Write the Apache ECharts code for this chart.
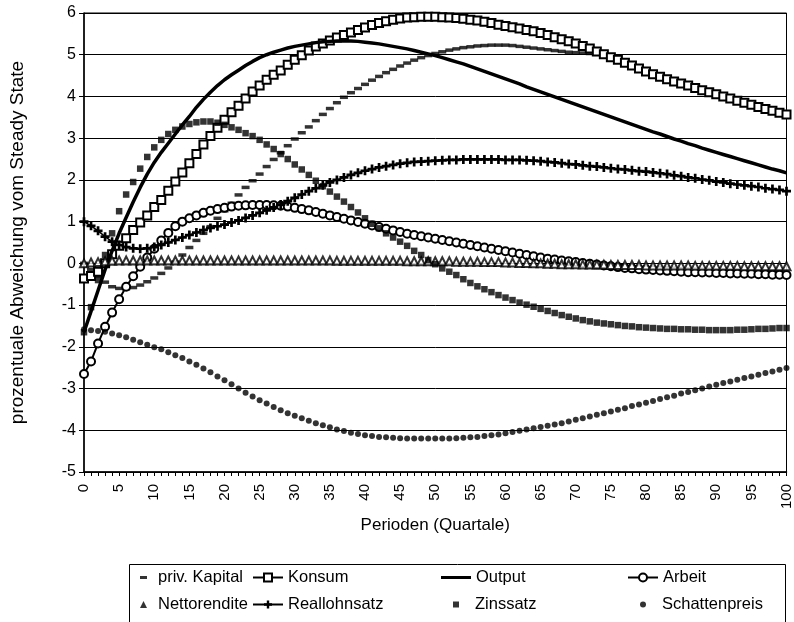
<!DOCTYPE html>
<html>
<head>
<meta charset="utf-8">
<script src="https://cdn.jsdelivr.net/npm/echarts@6/dist/echarts.min.js"></script>
<style>
html,body{margin:0;padding:0;background:#fff;}
#chart{width:794px;height:622px;}
</style>
</head>
<body>
<div id="chart"></div>
<script>
var periods = [0,1,2,3,4,5,6,7,8,9,10,11,12,13,14,15,16,17,18,19,20,21,22,23,24,25,26,27,28,29,30,31,32,33,34,35,36,37,38,39,40,41,42,43,44,45,46,47,48,49,50,51,52,53,54,55,56,57,58,59,60,61,62,63,64,65,66,67,68,69,70,71,72,73,74,75,76,77,78,79,80,81,82,83,84,85,86,87,88,89,90,91,92,93,94,95,96,97,98,99,100];

var seriesNames = ['priv. Kapital','Konsum','Output','Arbeit','Nettorendite','Reallohnsatz','Zinssatz','Schattenpreis'];

var privKapital = [0.0,-0.15,-0.3,-0.45,-0.56,-0.6,-0.61,-0.58,-0.52,-0.44,-0.35,-0.24,-0.11,0.03,0.2,0.38,0.55,0.72,0.88,1.08,1.26,1.44,1.64,1.82,1.98,2.14,2.32,2.49,2.65,2.82,2.98,3.13,3.27,3.42,3.57,3.71,3.85,3.98,4.09,4.19,4.29,4.39,4.48,4.57,4.65,4.73,4.8,4.87,4.93,4.98,5.03,5.07,5.11,5.14,5.17,5.19,5.21,5.22,5.23,5.23,5.23,5.22,5.2,5.18,5.16,5.14,5.12,5.1,5.08,5.06,5.05,5.04,5.03,5.01,4.97,4.92,4.86,4.79,4.72,4.65,4.58,4.51,4.45,4.39,4.34,4.29,4.24,4.18,4.13,4.08,4.03,3.98,3.93,3.88,3.83,3.78,3.73,3.68,3.64,3.59,3.55];

var konsum = [-0.36,-0.3,-0.2,0.0,0.22,0.42,0.6,0.8,0.98,1.15,1.35,1.52,1.74,1.96,2.18,2.4,2.62,2.85,3.05,3.25,3.44,3.62,3.78,3.95,4.12,4.26,4.4,4.52,4.62,4.76,4.88,4.99,5.1,5.2,5.27,5.34,5.41,5.47,5.53,5.59,5.65,5.71,5.76,5.8,5.84,5.87,5.89,5.9,5.91,5.91,5.91,5.9,5.89,5.88,5.86,5.84,5.82,5.79,5.76,5.72,5.69,5.66,5.63,5.59,5.56,5.52,5.47,5.42,5.37,5.32,5.27,5.21,5.15,5.08,5.01,4.94,4.88,4.81,4.74,4.67,4.6,4.53,4.47,4.41,4.36,4.31,4.26,4.2,4.15,4.1,4.05,4.0,3.95,3.9,3.85,3.8,3.75,3.7,3.66,3.61,3.57];

var output = [-1.65,-1.15,-0.65,-0.15,0.3,0.72,1.1,1.47,1.82,2.14,2.42,2.66,2.88,3.1,3.32,3.52,3.74,3.93,4.1,4.26,4.4,4.52,4.63,4.74,4.84,4.93,5.0,5.06,5.11,5.16,5.2,5.23,5.26,5.29,5.31,5.32,5.33,5.33,5.33,5.32,5.3,5.28,5.26,5.23,5.2,5.17,5.14,5.1,5.06,5.02,4.98,4.93,4.88,4.83,4.78,4.72,4.66,4.6,4.54,4.48,4.42,4.36,4.3,4.23,4.17,4.11,4.05,3.99,3.93,3.87,3.81,3.75,3.69,3.63,3.57,3.51,3.45,3.39,3.33,3.27,3.21,3.15,3.1,3.04,2.98,2.93,2.87,2.82,2.76,2.71,2.66,2.61,2.56,2.51,2.46,2.41,2.36,2.31,2.26,2.22,2.17];

var arbeit = [-2.65,-2.35,-1.92,-1.52,-1.18,-0.86,-0.56,-0.31,-0.08,0.14,0.35,0.55,0.73,0.89,1.0,1.08,1.15,1.21,1.26,1.3,1.33,1.36,1.38,1.39,1.4,1.4,1.4,1.39,1.38,1.36,1.33,1.3,1.27,1.23,1.19,1.15,1.11,1.07,1.03,0.99,0.95,0.91,0.87,0.83,0.79,0.75,0.71,0.68,0.65,0.62,0.59,0.56,0.53,0.5,0.47,0.44,0.41,0.38,0.35,0.32,0.29,0.26,0.23,0.2,0.17,0.14,0.11,0.09,0.07,0.05,0.03,0.01,-0.01,-0.03,-0.05,-0.07,-0.09,-0.11,-0.12,-0.14,-0.15,-0.16,-0.17,-0.18,-0.19,-0.2,-0.21,-0.21,-0.22,-0.22,-0.23,-0.23,-0.24,-0.24,-0.25,-0.25,-0.26,-0.26,-0.27,-0.27,-0.28];

var nettorendite = [0.0,0.02,0.03,0.05,0.06,0.07,0.07,0.07,0.07,0.07,0.07,0.07,0.07,0.07,0.07,0.07,0.07,0.07,0.07,0.07,0.07,0.07,0.07,0.07,0.07,0.07,0.07,0.07,0.07,0.07,0.07,0.07,0.07,0.07,0.07,0.07,0.06,0.06,0.06,0.06,0.06,0.06,0.06,0.06,0.06,0.06,0.05,0.05,0.05,0.05,0.05,0.05,0.05,0.04,0.04,0.04,0.04,0.03,0.03,0.03,0.02,0.02,0.01,0.01,0.0,0.0,-0.01,-0.01,-0.02,-0.02,-0.02,-0.03,-0.03,-0.03,-0.03,-0.04,-0.04,-0.04,-0.04,-0.04,-0.05,-0.05,-0.05,-0.05,-0.05,-0.05,-0.05,-0.06,-0.06,-0.06,-0.06,-0.06,-0.06,-0.06,-0.07,-0.07,-0.07,-0.07,-0.07,-0.07,-0.07];

var reallohnsatz = [1.0,0.9,0.78,0.64,0.52,0.44,0.39,0.36,0.35,0.36,0.39,0.44,0.5,0.56,0.62,0.68,0.74,0.8,0.85,0.89,0.93,0.98,1.03,1.09,1.15,1.21,1.27,1.34,1.41,1.49,1.57,1.65,1.73,1.8,1.87,1.94,2.0,2.06,2.12,2.17,2.22,2.26,2.3,2.33,2.36,2.39,2.41,2.43,2.44,2.45,2.46,2.47,2.48,2.48,2.49,2.49,2.49,2.49,2.49,2.49,2.48,2.48,2.48,2.47,2.46,2.45,2.43,2.42,2.4,2.38,2.37,2.35,2.33,2.32,2.3,2.28,2.26,2.25,2.23,2.21,2.2,2.18,2.16,2.14,2.11,2.09,2.06,2.04,2.01,1.99,1.96,1.94,1.91,1.89,1.87,1.85,1.83,1.8,1.78,1.76,1.73];

var zinssatz = [-1.65,-1.05,-0.4,0.2,0.72,1.25,1.65,1.95,2.27,2.55,2.78,2.96,3.1,3.2,3.28,3.34,3.38,3.4,3.4,3.37,3.32,3.26,3.2,3.12,3.05,2.96,2.85,2.74,2.62,2.5,2.37,2.25,2.12,1.98,1.85,1.72,1.6,1.48,1.35,1.22,1.08,0.95,0.84,0.72,0.62,0.52,0.42,0.3,0.2,0.08,-0.02,-0.12,-0.2,-0.28,-0.38,-0.47,-0.55,-0.62,-0.69,-0.76,-0.82,-0.88,-0.94,-0.99,-1.04,-1.09,-1.14,-1.19,-1.24,-1.28,-1.32,-1.36,-1.39,-1.42,-1.44,-1.46,-1.48,-1.5,-1.51,-1.53,-1.54,-1.55,-1.56,-1.57,-1.57,-1.58,-1.58,-1.59,-1.59,-1.6,-1.6,-1.6,-1.6,-1.59,-1.59,-1.58,-1.57,-1.57,-1.56,-1.55,-1.55];

var schattenpreis = [-1.58,-1.6,-1.62,-1.64,-1.68,-1.72,-1.77,-1.83,-1.89,-1.95,-2.01,-2.06,-2.13,-2.2,-2.27,-2.35,-2.43,-2.52,-2.61,-2.71,-2.8,-2.9,-3.0,-3.1,-3.19,-3.28,-3.36,-3.44,-3.52,-3.59,-3.65,-3.71,-3.77,-3.83,-3.88,-3.93,-3.98,-4.02,-4.06,-4.09,-4.12,-4.14,-4.16,-4.17,-4.18,-4.19,-4.2,-4.2,-4.2,-4.2,-4.2,-4.2,-4.2,-4.19,-4.18,-4.17,-4.16,-4.14,-4.12,-4.1,-4.07,-4.04,-4.01,-3.98,-3.95,-3.92,-3.89,-3.86,-3.83,-3.79,-3.75,-3.71,-3.67,-3.63,-3.59,-3.55,-3.51,-3.47,-3.42,-3.38,-3.34,-3.3,-3.25,-3.21,-3.17,-3.12,-3.08,-3.04,-3.0,-2.95,-2.91,-2.87,-2.83,-2.79,-2.75,-2.71,-2.67,-2.63,-2.59,-2.55,-2.51];

var yAxisTitle = 'prozentuale Abweichung vom Steady State';
var xAxisTitle = 'Perioden (Quartale)';

function pairs(vals) {
  return periods.map(function (p, i) { return [p, vals[i]]; });
}

var FONT = "'Liberation Sans', Arial, sans-serif";
var BLACK = '#000';
var plusPath = 'path://M3.5,0h3v3.5h3.5v3h-3.5v3.5h-3v-3.5h-3.5v-3h3.5z';
var LEG_FS = 16.5;

var chart = echarts.init(document.getElementById('chart'), null, {renderer: 'canvas'});

function legendItem(name, left, top, extra, pad) {
  var base = {
    data: [name],
    left: left,
    top: top,
    orient: 'horizontal',
    selectedMode: false,
    itemWidth: 30,
    itemHeight: 10,
    padding: 0,
    textStyle: {fontFamily: FONT, fontSize: LEG_FS, color: BLACK, padding: [0, 0, 0, pad || 0]}
  };
  for (var k in extra) base[k] = extra[k];
  return base;
}

var option = {
  animation: false,
  backgroundColor: '#fff',
  grid: {left: 82, right: 7, top: 13, bottom: 150, show: true, borderColor: BLACK, borderWidth: 1},
  xAxis: {
    type: 'value', min: 0, max: 100, interval: 5,
    name: xAxisTitle, nameLocation: 'middle', nameGap: 41,
    nameTextStyle: {fontFamily: FONT, fontSize: 17, color: BLACK},
    axisLine: {show: true, onZero: false, lineStyle: {color: BLACK, width: 1.5}},
    axisTick: {show: true, length: 4, inside: false, lineStyle: {color: BLACK}},
    minorTick: {show: true, splitNumber: 5, length: 4, lineStyle: {color: BLACK}},
    splitLine: {show: false},
    axisLabel: {rotate: 90, margin: 12, fontFamily: FONT, fontSize: 15, color: BLACK}
  },
  yAxis: {
    type: 'value', min: -5, max: 6, interval: 1,
    name: yAxisTitle, nameLocation: 'middle', nameRotate: 90, nameGap: 57,
    nameTextStyle: {fontFamily: FONT, fontSize: 19, color: BLACK},
    axisLine: {show: true, lineStyle: {color: BLACK, width: 1.5}},
    axisTick: {show: true, length: 5, lineStyle: {color: BLACK}},
    splitLine: {show: true, lineStyle: {color: BLACK, width: 1}},
    axisLabel: {margin: 8, fontFamily: FONT, fontSize: 16, color: BLACK}
  },
  legend: [
    legendItem(seriesNames[0], 140, 569, {itemWidth: 7, itemHeight: 3, icon: 'rect', itemStyle: {color: BLACK}}, 6),
    legendItem(seriesNames[1], 252, 569, {}),
    legendItem(seriesNames[2], 441, 569, {icon: 'rect', itemHeight: 3}),
    legendItem(seriesNames[3], 627, 569, {}),
    legendItem(seriesNames[4], 140, 596, {itemWidth: 7, itemHeight: 7, icon: 'triangle', itemStyle: {color: BLACK, borderWidth: 0}}, 6),
    legendItem(seriesNames[5], 252, 596, {}),
    legendItem(seriesNames[6], 453, 596, {itemWidth: 6, itemHeight: 6, icon: 'rect', itemStyle: {color: BLACK}}, 11),
    legendItem(seriesNames[7], 640, 596, {itemWidth: 6, itemHeight: 6, icon: 'circle', itemStyle: {color: BLACK}}, 11)
  ],
  graphic: [{
    type: 'rect', left: 127, top: 562, silent: true,
    shape: {width: 656, height: 58},
    style: {fill: 'none', stroke: BLACK, lineWidth: 1}
  }],
  series: [
    {name: seriesNames[0], type: 'scatter', data: pairs(privKapital), symbol: 'rect', symbolSize: [8, 3.5], itemStyle: {color: BLACK}, z: 2},
    {name: seriesNames[1], type: 'line', data: pairs(konsum), symbol: 'emptyRect', symbolSize: 8, showAllSymbol: true,
      lineStyle: {color: BLACK, width: 2}, itemStyle: {color: BLACK, borderWidth: 1.6}, z: 3},
    {name: seriesNames[2], type: 'line', data: pairs(output), symbol: 'none',
      lineStyle: {color: BLACK, width: 3.5}, itemStyle: {color: BLACK}, z: 4},
    {name: seriesNames[3], type: 'line', data: pairs(arbeit), symbol: 'emptyCircle', symbolSize: 8, showAllSymbol: true,
      lineStyle: {color: BLACK, width: 2}, itemStyle: {color: BLACK, borderWidth: 1.6}, z: 5},
    {name: seriesNames[4], type: 'scatter', data: pairs(nettorendite), symbol: 'emptyTriangle', symbolSize: 8,
      itemStyle: {color: BLACK, borderWidth: 1.5}, z: 6},
    {name: seriesNames[5], type: 'line', data: pairs(reallohnsatz), symbol: plusPath, symbolSize: 9, showAllSymbol: true,
      lineStyle: {color: BLACK, width: 1.5}, itemStyle: {color: BLACK}, z: 7},
    {name: seriesNames[6], type: 'scatter', data: pairs(zinssatz), symbol: 'rect', symbolSize: 6.5, itemStyle: {color: BLACK}, z: 8},
    {name: seriesNames[7], type: 'scatter', data: pairs(schattenpreis), symbol: 'circle', symbolSize: 6, itemStyle: {color: BLACK}, z: 9}
  ]
};
chart.setOption(option);
</script>
</body>
</html>
